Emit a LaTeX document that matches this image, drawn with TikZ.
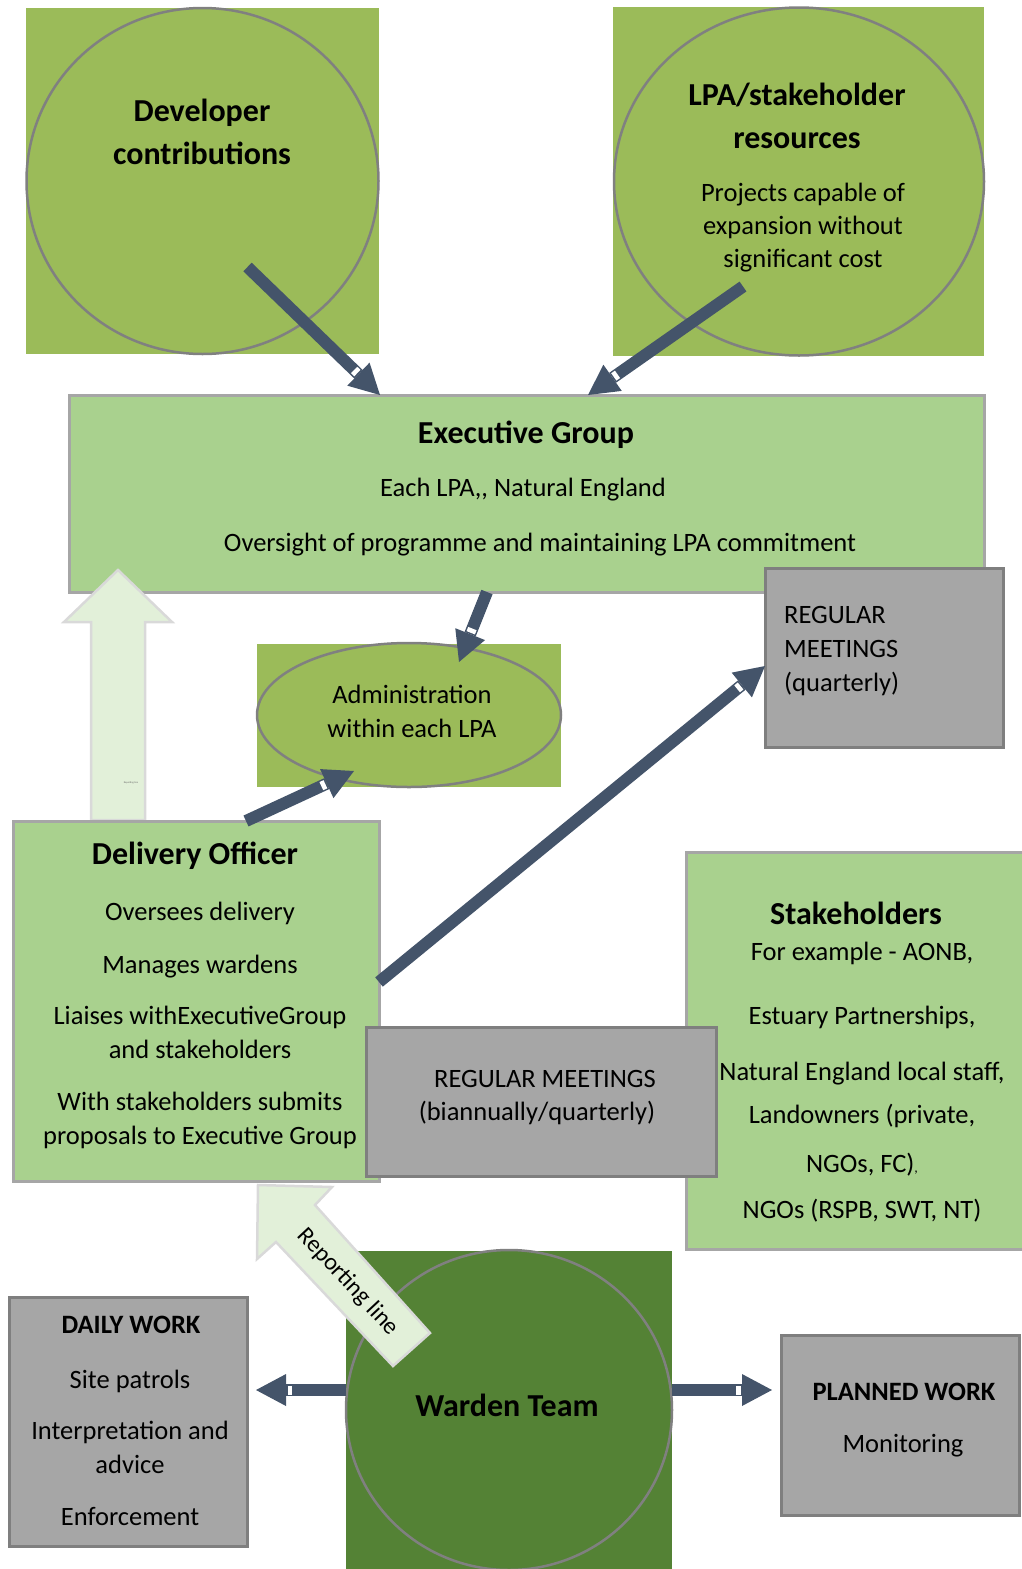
\documentclass[tikz,border=0pt]{standalone}
\usepackage{fontspec}
\setmainfont{Carlito}
\usetikzlibrary{arrows.meta,calc,shapes.geometric,decorations.markings}

\definecolor{leafgreen}{HTML}{9BBB59}
\definecolor{palegreen}{HTML}{A9D18E}
\definecolor{wardgreen}{HTML}{548235}
\definecolor{slateblue}{HTML}{44546A}
\definecolor{meetgray}{HTML}{A6A6A6}
\definecolor{meetedge}{HTML}{7F7F7F}
\definecolor{ringgray}{HTML}{808080}
\definecolor{mistgreen}{HTML}{E2F0D9}

\tikzset{
  leafsq/.style={fill=leafgreen, draw=none, inner sep=0pt, outer sep=0pt},
  ring/.style={ellipse, draw=ringgray, line width=2.5pt, inner sep=0pt, outer sep=0pt},
  palebox/.style={rectangle, fill=palegreen, draw=meetgray, line width=3pt, inner sep=0pt, outer sep=0pt},
  meetbox/.style={rectangle, fill=meetgray, draw=meetedge, line width=3pt, inner sep=0pt, outer sep=0pt},
  bodytxt/.style={font=\fontsize{26.5}{34}\selectfont, align=center, inner sep=0pt, yshift=-3pt},
  headtxt/.style={font=\fontsize{32}{43}\selectfont\bfseries, align=center, inner sep=0pt, yshift=-3pt},
  subhead/.style={font=\fontsize{26.5}{34}\selectfont\bfseries, align=center, inner sep=0pt, yshift=-2pt},
  blockarrow/.style={fill=mistgreen, draw=black!15, line width=2.5pt, line join=miter},
  darrow/.style={draw=slateblue, line width=12pt,
    -{Triangle[length=30pt, width=32pt, line width=0pt]},
    postaction={decorate, decoration={markings,
      mark=at position -31.5pt with {\fill[white] (-4.5pt,-4.5pt) rectangle (0pt,4.5pt);}}}},
}

\begin{document}
\begin{tikzpicture}[x=1pt, y=-1pt]
		%%%%% START %%%%%
		\useasboundingbox (0,0) rectangle (1022,1569);
		
		% funding
		\node[leafsq, minimum width=353pt, minimum height=346pt] (devsq) at (202.5,181) {};
		\node[ring, minimum width=352pt, minimum height=346pt] (devring) at (202.5,181) {};
		\node[headtxt] (devtxt) at (202,128.5) {Developer\\contributions};
		
		\node[leafsq, minimum width=371pt, minimum height=349pt] (lpasq) at (798.5,181.5) {};
		\node[ring, minimum width=370pt, minimum height=348pt] (lparing) at (799,181.5) {};
		\node[headtxt] (lpatxt) at (797,112.5) {LPA/stakeholder\\resources};
		\node[bodytxt] (lpabody) at (803,225) {Projects capable of\\[-1pt]expansion without\\[-1pt]significant cost};
		
		% executive group
		\node[palebox, minimum width=915pt, minimum height=197pt] (exec) at (526.5,493.5) {};
		\node[headtxt] (exectitle) at (526,432) {Executive Group};
		\node[bodytxt] (execmembers) at (523,487) {Each LPA,{}, Natural England};
		\node[bodytxt] (execrole) at (540,542) {Oversight of programme and maintaining LPA commitment};
		
		\node[meetbox, minimum width=238pt, minimum height=179pt] (quarterly) at (884,657.5) {};
		\node[bodytxt, align=left, anchor=west] (quartertxt) at (784,648.5) {REGULAR\\MEETINGS\\(quarterly)};
		
		\node[leafsq, minimum width=304pt, minimum height=143pt] (adminsq) at (409,715.5) {};
		\node[ring, fill=leafgreen, minimum width=304pt, minimum height=144pt] (admin) at (409,715) {};
		\node[bodytxt] (admintxt) at (412,708) {Administration\\within each LPA};
		
		\draw[blockarrow] (91,820) -- (91,622) -- (64,622) -- (118,570) -- (172,622) -- (145,622) -- (145,820) -- cycle;
		\node[font=\fontsize{2.5}{3}\selectfont, text=black!60, inner sep=0pt] (uplabel) at (131,783) {Reporting line};
		
		% delivery
		\node[palebox, minimum width=366pt, minimum height=360pt] (deliv) at (196,1001) {};
		\node[headtxt] (delivtitle) at (195,853) {Delivery Officer};
		\node[bodytxt] (delivtxt) at (200,1022) {Oversees delivery\\[19pt]Manages wardens\\[17pt]Liaises withExecutiveGroup\\and stakeholders\\[18pt]With stakeholders submits\\proposals to Executive Group};
		
		\node[palebox, minimum width=338pt, minimum height=397pt] (stake) at (855,1050.5) {};
		\node[headtxt] (staketitle) at (856,910) {Stakeholders};
		\node[bodytxt] (staketxt) at (862,1079) {For example - AONB,\\[30pt]Estuary Partnerships,\\[22pt]Natural England local staff,\\[9pt]Landowners (private,\\[15pt]NGOs, FC){\fontsize{14}{14}\selectfont,}\\[12pt]NGOs (RSPB, SWT, NT)};
		
		\node[meetbox, minimum width=350pt, minimum height=149pt] (biannual) at (541,1101.5) {};
		\node[bodytxt] (biannualhead) at (545,1076) {REGULAR MEETINGS};
		\node[bodytxt] (biannualtxt) at (537,1110) {(biannually/quarterly)};
		
		% wardens
		\node[fill=wardgreen, inner sep=0pt, outer sep=0pt, minimum width=326pt, minimum height=318pt] (wardsq) at (509,1410) {};
		\node[ring, minimum width=326pt, minimum height=320pt] (wardring) at (509,1410) {};
		\node[headtxt] (wardtxt) at (507,1402) {Warden Team};
		
		\draw[blockarrow] (393,1366) -- (276,1242) -- (257,1259) -- (258,1185) -- (332,1187) -- (315,1205) -- (430,1333) -- cycle;
		\node[bodytxt, font=\fontsize{24}{28}\selectfont, rotate=-47] (replabel) at (348,1279) {Reporting line};
		
		\node[meetbox, minimum width=238pt, minimum height=249pt] (daily) at (128,1421.5) {};
		\node[subhead] (dailytitle) at (131,1323) {DAILY WORK};
		\node[bodytxt] (dailytxt) at (130,1444.5) {Site patrols\\[17pt]Interpretation and\\advice\\[18pt]Enforcement};
		
		\node[meetbox, minimum width=238pt, minimum height=180pt] (planned) at (900,1425) {};
		\node[subhead] (plannedtitle) at (904,1390) {PLANNED WORK};
		\node[bodytxt] (plannedtxt) at (903,1443) {Monitoring};
		
		% connectors
		\draw[darrow] ($(devring.center)+(45,86)$) -- ($(exec.north west)+(311,0)$);
		\draw[darrow] ($(lparing.center)+(-56,105)$) -- ($(exec.north west)+(519,0)$);
		\draw[darrow] ($(exec.south west)+(418,0)$) -- ($(admin.center)+(50,-53)$);
		\draw[darrow] ($(deliv.north west)+(233,0)$) -- ($(admin.center)+(-55,56)$);
		\draw[darrow] ($(deliv.north east)+(0,161)$) -- ($(quarterly.north west)+(0,98)$);
		\draw[darrow] ($(wardsq.west)+(0,-20)$) -- ($(daily.east)+(9,-31.5)$);
		\draw[darrow] ($(wardsq.east)+(0,-20)$) -- ($(planned.west)+(-9,-35)$);
		
		%%%%% END %%%%%
\end{tikzpicture}
\end{document}
